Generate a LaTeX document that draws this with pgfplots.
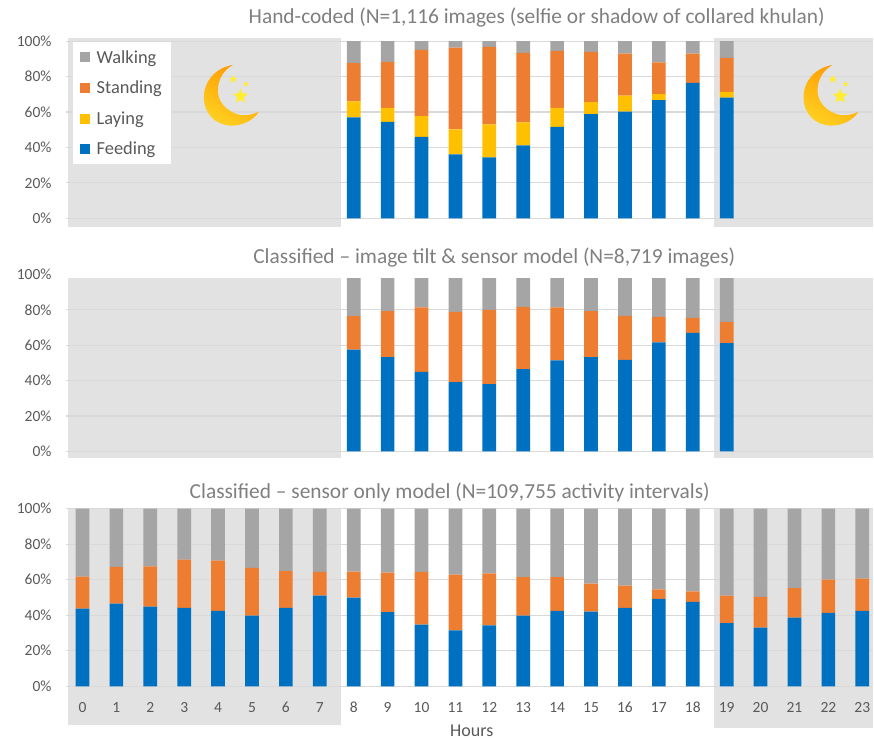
\documentclass[border=0pt]{standalone}
\usepackage{fontspec}
\setmainfont{Carlito}[Numbers=Lining]
\usepackage{pgfplots}
\usepackage{pgfplotstable}
\pgfplotsset{compat=1.18}
\usetikzlibrary{shapes.geometric}

\definecolor{feedc}{HTML}{0070C0}
\definecolor{layc}{HTML}{FFC000}
\definecolor{standc}{HTML}{ED7D31}
\definecolor{walkc}{HTML}{A5A5A5}
\definecolor{nightc}{HTML}{E2E2E2}
\definecolor{gridc}{HTML}{D9D9D9}
\definecolor{titlec}{HTML}{7F7F7F}
\definecolor{tickc}{HTML}{595959}
\definecolor{moonl}{HTML}{FF9800}
\definecolor{moonr}{HTML}{FFCF20}
\definecolor{starc}{HTML}{FFEE30}

% hour feeding laying standing walking (percent)
\pgfplotstableread{
h  feed  lay  stand walk
8  57.0  9.0  21.6  12.4
9  54.5  7.9  25.9  11.7
10 46.0  11.7 37.4  4.9
11 36.1  14.1 46.2  3.6
12 34.4  18.6 43.8  3.2
13 41.2  12.9 39.3  6.6
14 51.7  10.7 32.1  5.5
15 58.8  6.8  28.4  6.0
16 60.2  9.0  23.7  7.1
17 66.7  3.4  17.9  12.0
18 76.5  0.0  16.5  7.0
19 68.2  3.2  19.2  9.4
}\handtable

\pgfplotstableread{
h  feed stand walk
8  57.6 18.9  23.5
9  53.3 26.0  20.7
10 45.0 36.4  18.6
11 39.2 39.7  21.1
12 38.0 42.0  20.0
13 46.5 35.2  18.3
14 51.4 30.0  18.6
15 53.3 26.0  20.7
16 51.8 24.8  23.4
17 61.6 14.5  23.9
18 67.0 8.5   24.5
19 61.2 12.1  26.7
}\tilttable

\pgfplotstableread{
h  feed stand walk
0  43.7 18.0  38.3
1  46.5 20.7  32.8
2  44.8 22.7  32.5
3  44.1 27.2  28.7
4  42.4 28.3  29.3
5  39.8 26.8  33.4
6  44.1 20.8  35.1
7  51.0 13.4  35.6
8  49.9 14.6  35.5
9  41.7 22.3  36.0
10 34.7 29.7  35.6
11 31.5 31.4  37.1
12 34.3 29.3  36.4
13 39.8 21.7  38.5
14 42.4 19.1  38.5
15 42.0 15.8  42.2
16 44.1 12.6  43.3
17 49.2 5.4   45.4
18 47.5 6.0   46.5
19 35.5 15.5  49.0
20 33.0 17.3  49.7
21 38.6 16.7  44.7
22 41.3 18.7  40.0
23 42.4 18.2  39.4
}\sensortable

\pgfplotsset{
  hourchart/.style={
    scale only axis,
    width=808pt,
    ybar stacked,
    bar width=13.7pt,
    xmin=-0.487, xmax=23.33,
    ymin=0, ymax=100,
    ytick={0,20,...,100},
    xtick={0,...,23},
    ymajorgrids,
    grid style={gridc,line width=1.1pt},
    axis line style={draw=none},
    tick style={draw=none},
    yticklabel={\pgfmathprintnumber{\tick}\%},
    tick label style={font=\fontsize{15.5}{18}\selectfont,text=tickc},
    /pgf/number format/assume math mode=true,
    yticklabel style={xshift=-11pt},
    title style={font=\fontsize{21.4}{25}\selectfont,text=titlec,anchor=center},
    legend image code/.code={\fill[##1,draw=none] (0pt,-5pt) rectangle (10pt,5pt);},
  },
  feedbar/.style={fill=feedc,draw=none},
  laybar/.style={fill=layc,draw=none},
  standbar/.style={fill=standc,draw=none},
  walkbar/.style={fill=walkc,draw=none},
}

\newcommand{\moon}[2]{%
  \begin{scope}[shift={(#1,#2)},yscale=-1]
    \shade[left color=moonl,right color=moonr,shading angle=-30]
      (38,10) .. controls (20,13) and (9,27) .. (9,42)
      .. controls (9,59) and (21,70.7) .. (37,70.7)
      .. controls (49,70.7) and (60,64) .. (64,56.7)
      .. controls (58,60) and (50,61) .. (45,60)
      .. controls (32,57) and (23,47) .. (23,36)
      .. controls (23,24) and (29,15) .. (38,10) -- cycle;
    \node[star,star points=5,star point ratio=2.3,fill=starc,draw=none,inner sep=0pt,minimum size=16pt] at (45.7,41.3) {};
    \node[star,star points=5,star point ratio=2.3,fill=starc,draw=none,inner sep=0pt,minimum size=8.5pt] at (38.3,24.3) {};
    \node[star,star points=5,star point ratio=2.3,fill=starc,draw=none,inner sep=0pt,minimum size=6pt] at (51,29.3) {};
  \end{scope}}

\begin{document}
\begin{tikzpicture}[x=1pt,y=1pt]
\path (0,0) rectangle (874,738);

% night shading, pixel positions with y flipped
\fill[nightc] (68,700) rectangle (341,511.3);
\fill[nightc] (714,700) rectangle (874,511.3);
\fill[nightc] (68,460) rectangle (341,279.7);
\fill[nightc] (714,460) rectangle (874,279.7);
\fill[nightc] (68,229) rectangle (341,13);
\fill[nightc] (714,229) rectangle (874,9.7);

\begin{axis}[hourchart,
  at={(66pt,519.5pt)},anchor=south west,height=177.3pt,
  xticklabels={},
  title={Hand-coded (N=1,116 images (selfie or shadow of collared khulan)},
  title style={at={(0.583,1)},yshift=17.5pt},
  reverse legend,
  legend cell align=left,
  legend style={at={(0.0087,0.9944)},anchor=north west,draw=none,fill=white,
    font=\fontsize{18.4}{21}\selectfont,text=tickc,row sep=12.3pt,inner xsep=7pt,inner ysep=6pt,
    /tikz/every odd column/.append style={column sep=4.5pt}},
]
\addplot[feedbar] table[x=h,y=feed] {\handtable};
\addplot[laybar] table[x=h,y=lay] {\handtable};
\addplot[standbar] table[x=h,y=stand] {\handtable};
\addplot[walkbar] table[x=h,y=walk] {\handtable};
\legend{Feeding,Laying,Standing,Walking}
\end{axis}
\moon{195}{683}
\moon{795}{683}

\begin{axis}[hourchart,
  at={(66pt,286.3pt)},anchor=south west,height=177pt,
  xticklabels={},
  title={Classified -- image tilt \& sensor model (N=8,719 images)},
  title style={at={(0.5304,1)},yshift=11pt},
]
\addplot[feedbar] table[x=h,y=feed] {\tilttable};
\addplot[standbar] table[x=h,y=stand] {\tilttable};
\addplot[walkbar] table[x=h,y=walk] {\tilttable};
\end{axis}
% the source picture cuts the bars of this panel off just below 100%
\fill[white] (60,459.9) rectangle (874,465);

\begin{axis}[hourchart,
  at={(66pt,51.3pt)},anchor=south west,height=177.7pt,
  xticklabels={0,1,...,23},
  xticklabel style={yshift=-12.5pt},
  xlabel={Hours},
  xlabel style={font=\fontsize{18}{21}\selectfont,text=tickc,at={(0.5025,0)},anchor=center,yshift=-44.5pt},
  title={Classified -- sensor only model (N=109,755 activity intervals)},
  title style={at={(0.4752,1)},yshift=10.5pt},
]
\addplot[feedbar] table[x=h,y=feed] {\sensortable};
\addplot[standbar] table[x=h,y=stand] {\sensortable};
\addplot[walkbar] table[x=h,y=walk] {\sensortable};
\end{axis}
\end{tikzpicture}
\end{document}
